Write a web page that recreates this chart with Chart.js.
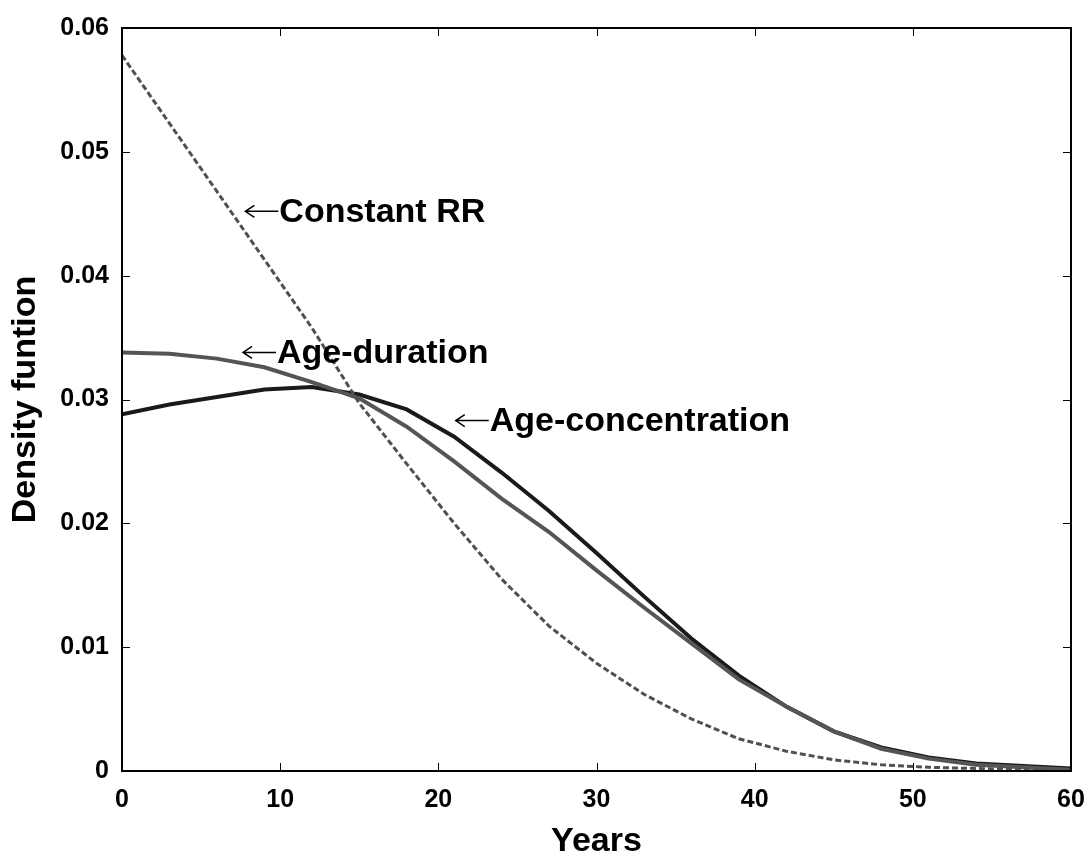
<!DOCTYPE html>
<html lang="en">
<head>
    <meta charset="UTF-8">
    <title>Density funtion</title>
    <script src="https://cdn.jsdelivr.net/npm/chart.js"></script>
    <style>
        html, body {
            margin: 0;
            padding: 0;
            background: #fff;
        }
        .chart-container {
            width: 1090px;
            height: 859px;
            position: relative;
        }
    </style>
</head>
<body>
    <div class="chart-container">
        <canvas id="densityChart"></canvas>
    </div>

    <script>
        // Años (cada 3 años)
        const years = [0, 3, 6, 9, 12, 15, 18, 21, 24, 27, 30, 33, 36, 39, 42, 45, 48, 51, 54, 57, 60];

        const ageConcentration = [0.0288, 0.0296, 0.0302, 0.0308, 0.0310, 0.0304, 0.0292, 0.0270, 0.0241, 0.0210, 0.0176,
            0.0141, 0.0107, 0.0077, 0.0052, 0.0032, 0.0019, 0.0011, 0.0006, 0.0004, 0.0002];
        const ageDuration = [0.0338, 0.0337, 0.0333, 0.0326, 0.0314, 0.0301, 0.0278, 0.0250, 0.0220, 0.0193, 0.0162,
            0.0132, 0.0103, 0.0074, 0.0052, 0.0032, 0.0018, 0.0010, 0.0005, 0.0003, 0.0001];
        const constantRR = [0.0578, 0.0523, 0.0468, 0.0413, 0.0358, 0.0297, 0.0248, 0.0200, 0.0155, 0.0117, 0.0087,
            0.0062, 0.0042, 0.0026, 0.0016, 0.0009, 0.0005, 0.0003, 0.0002, 0.0001, 0.0000];

        // Etiquetas con flecha: [texto, año, densidad]
        const annotations = [
            ['Constant RR', 7.8, 0.0452],
            ['Age-duration', 7.65, 0.0338],
            ['Age-concentration', 21.1, 0.0283]
        ];

        const boldFont = "'Liberation Sans', Arial, sans-serif";

        function toPoints(values) {
            return years.map((x, i) => ({ x: x, y: values[i] }));
        }

        // Marco con marcas hacia dentro en los cuatro lados + etiquetas
        const framePlugin = {
            id: 'frame',
            afterDatasetsDraw(chart) {
                const ctx = chart.ctx;
                const { left, right, top, bottom } = chart.chartArea;
                const xs = chart.scales.x;
                const ys = chart.scales.y;
                const len = 8;
                ctx.save();
                ctx.strokeStyle = '#000';
                ctx.lineWidth = 2;
                ctx.strokeRect(left, top, right - left, bottom - top);
                ctx.lineWidth = 1;
                ctx.beginPath();
                xs.ticks.forEach(t => {
                    const px = Math.round(xs.getPixelForValue(t.value)) + 0.5;
                    ctx.moveTo(px, bottom); ctx.lineTo(px, bottom - len);
                    ctx.moveTo(px, top); ctx.lineTo(px, top + len);
                });
                ys.ticks.forEach(t => {
                    const py = Math.round(ys.getPixelForValue(t.value)) + 0.5;
                    ctx.moveTo(left, py); ctx.lineTo(left + len, py);
                    ctx.moveTo(right, py); ctx.lineTo(right - len, py);
                });
                ctx.stroke();

                // flechas finas y texto en negrita
                ctx.fillStyle = '#000';
                ctx.lineWidth = 1.5;
                ctx.textBaseline = 'middle';
                ctx.textAlign = 'left';
                ctx.font = 'bold 34px ' + boldFont;
                annotations.forEach(a => {
                    const px = xs.getPixelForValue(a[1]);
                    const py = ys.getPixelForValue(a[2]);
                    ctx.beginPath();
                    ctx.moveTo(px, py); ctx.lineTo(px + 33, py);
                    ctx.moveTo(px + 9, py - 6); ctx.lineTo(px, py); ctx.lineTo(px + 9, py + 6);
                    ctx.stroke();
                    ctx.fillText(a[0], px + 34, py + 1);
                });
                ctx.restore();
            }
        };

        const ctx = document.getElementById('densityChart').getContext('2d');
        new Chart(ctx, {
            type: 'line',
            data: {
                datasets: [{
                    label: 'Constant RR',
                    data: toPoints(constantRR),
                    borderColor: '#505050',
                    borderWidth: 3,
                    borderDash: [6, 3],
                    pointRadius: 0,
                    fill: false
                }, {
                    label: 'Age-duration',
                    data: toPoints(ageDuration),
                    borderColor: '#555555',
                    borderWidth: 4,
                    pointRadius: 0,
                    fill: false
                }, {
                    label: 'Age-concentration',
                    data: toPoints(ageConcentration),
                    borderColor: '#1a1a1a',
                    borderWidth: 4,
                    pointRadius: 0,
                    fill: false
                }]
            },
            options: {
                responsive: true,
                maintainAspectRatio: false,
                animation: false,
                layout: {
                    padding: { left: 0, top: 28, right: 19, bottom: 0 }
                },
                plugins: {
                    legend: { display: false },
                    tooltip: { enabled: false }
                },
                scales: {
                    x: {
                        type: 'linear',
                        min: 0,
                        max: 60,
                        grid: { display: false, drawTicks: false },
                        border: { display: false },
                        ticks: {
                            stepSize: 10,
                            padding: 14,
                            color: '#000',
                            font: { family: boldFont, size: 25, weight: 'bold' }
                        },
                        title: {
                            display: true,
                            text: 'Years',
                            color: '#000',
                            padding: { top: 0, bottom: 0 },
                            font: { family: boldFont, size: 34, weight: 'bold', lineHeight: 1.0 }
                        },
                        afterFit(scale) {
                            scale.height = 88;
                            scale.paddingLeft = 0;
                            scale.paddingRight = 0;
                        }
                    },
                    y: {
                        min: 0,
                        max: 0.06,
                        grid: { display: false, drawTicks: false },
                        border: { display: false },
                        ticks: {
                            stepSize: 0.01,
                            padding: 13,
                            color: '#000',
                            font: { family: boldFont, size: 25, weight: 'bold' },
                            callback: function (value) {
                                return value === 0 ? '0' : value.toFixed(2);
                            }
                        },
                        title: {
                            display: true,
                            text: 'Density funtion',
                            color: '#000',
                            padding: { top: 9, bottom: 0 },
                            font: { family: boldFont, size: 34, weight: 'bold', lineHeight: 1.0 }
                        },
                        afterFit(scale) { scale.width = 122; }
                    }
                }
            },
            plugins: [framePlugin]
        });
    </script>
</body>
</html>
